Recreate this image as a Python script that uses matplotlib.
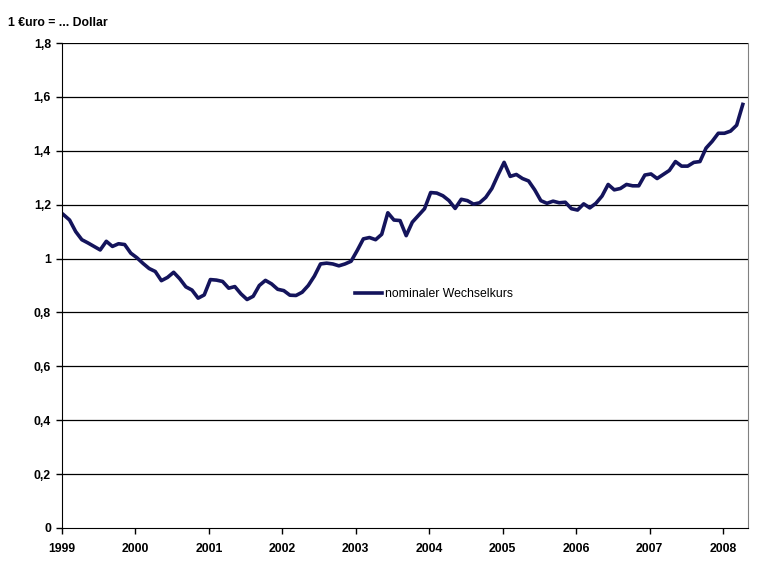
import matplotlib
matplotlib.use('Agg')
import matplotlib.pyplot as plt
import numpy as np

# Monthly exchange rate, Jan 1999 .. Apr 2008
start_year = 1999
rate = [
    1.163, 1.143, 1.100, 1.070, 1.058, 1.045, 1.032, 1.064, 1.045, 1.055, 1.052, 1.020,  # 1999
    1.003, 0.982, 0.963, 0.952, 0.918, 0.930, 0.949, 0.925, 0.895, 0.883, 0.853, 0.865,  # 2000
    0.922, 0.920, 0.915, 0.890, 0.896, 0.869, 0.848, 0.860, 0.900, 0.919, 0.906, 0.886,  # 2001
    0.881, 0.864, 0.863, 0.875, 0.900, 0.935, 0.980, 0.983, 0.980, 0.973, 0.980, 0.990,  # 2002
    1.030, 1.073, 1.078, 1.070, 1.090, 1.170, 1.143, 1.141, 1.085, 1.135, 1.160, 1.185,  # 2003
    1.245, 1.243, 1.233, 1.215, 1.186, 1.220, 1.215, 1.202, 1.207, 1.227, 1.260, 1.310,  # 2004
    1.357, 1.305, 1.312, 1.297, 1.288, 1.255, 1.215, 1.205, 1.213, 1.207, 1.209, 1.185,  # 2005
    1.180, 1.203, 1.188, 1.205, 1.232, 1.275, 1.255, 1.260, 1.275, 1.270, 1.270, 1.310,  # 2006
    1.314, 1.297, 1.312, 1.327, 1.360, 1.343, 1.343, 1.357, 1.360, 1.410, 1.435, 1.465,  # 2007
    1.465, 1.473, 1.495, 1.572,                                                          # 2008
]
years = list(range(1999, 2009))
yticks = [0, 0.2, 0.4, 0.6, 0.8, 1.0, 1.2, 1.4, 1.6, 1.8]
ytick_labels = ['0', '0,2', '0,4', '0,6', '0,8', '1', '1,2', '1,4', '1,6', '1,8']

plt.rcParams['font.family'] = ['Liberation Sans', 'DejaVu Sans']

t = start_year + 0.02 + np.arange(len(rate)) / 12.0

fig = plt.figure(figsize=(7.69, 5.63), dpi=100)
ax = fig.add_axes([62/769, 35/563, 686/769, 485/563])

ax.plot(t, rate, color='#14145c', lw=2.6, solid_joinstyle='round',
        label='nominaler Wechselkurs')

ax.set_xlim(1999, 2008.341)
ax.set_ylim(0, 1.8)
ax.set_yticks(yticks)
ax.set_yticklabels(ytick_labels, fontsize=8.8, fontweight='bold')
ax.set_xticks(years)
ax.set_xticklabels([str(y) for y in years], fontsize=8.8, fontweight='bold')
ax.tick_params(direction='out', length=4, width=1, color='black')
ax.tick_params(axis='x', pad=7)
ax.tick_params(axis='y', pad=4)

for y in yticks[1:]:
    ax.axhline(y, color='black', lw=0.9, zorder=0)

ax.spines['top'].set_visible(False)
ax.spines['right'].set_color('#808080')
ax.spines['left'].set_color('black')
ax.spines['bottom'].set_color('black')

fig.text(8/769, 1 - 23/563, '1 \u20acuro = ... Dollar', fontsize=8.8,
         fontweight='bold', va='center', ha='left')

ax.legend(loc='center left', bbox_to_anchor=((355-62)/686, (528-294)/485),
          frameon=False, fontsize=8.8, handlelength=2.2, handletextpad=0.25,
          borderaxespad=0, borderpad=0)

fig.savefig('out.png', dpi=100, facecolor='white')
